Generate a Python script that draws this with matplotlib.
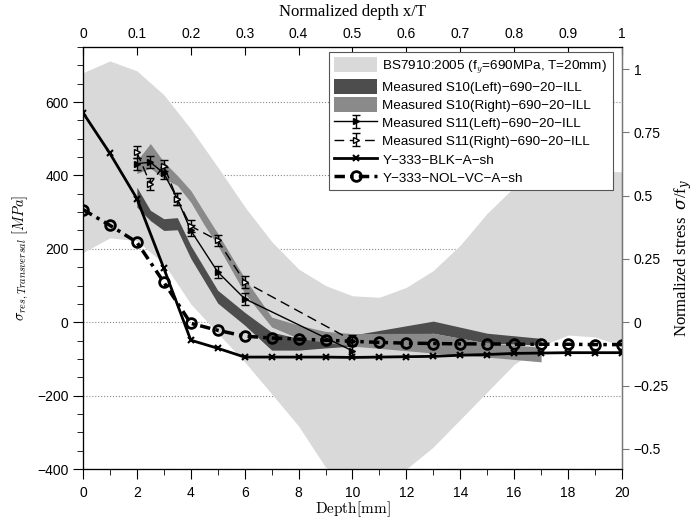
import numpy as np
import matplotlib
matplotlib.use("Agg")
import matplotlib.pyplot as plt
from matplotlib.ticker import MultipleLocator, FuncFormatter

plt.rcParams['font.family'] = ['Liberation Sans', 'DejaVu Sans']
plt.rcParams['mathtext.fontset'] = 'cm'

# BS7910 band (upper / lower bound, MPa) vs depth
bs_x = [0, 1, 2, 3, 4, 5, 6, 7, 8, 9, 10, 11, 12, 13, 14, 15, 16, 17, 18, 19, 20]
bs_upper = [680, 712, 685, 620, 527, 423, 315, 220, 145, 100, 72, 68, 95, 141, 210, 297, 368, 400, 410, 412, 410]
bs_lower = [190, 230, 222, 160, 50, -30, -108, -195, -283, -395, -440, -445, -400, -340, -265, -190, -115, -65, -35, -40, -65]

# measured S10 bands
s10l_x = [2, 2.5, 3, 3.5, 4, 5, 6, 7, 8, 9, 10, 13, 15, 17]
s10l_upper = [368, 305, 282, 285, 209, 87, 27, -27, -44, -40, -35, 3, -30, -44]
s10l_lower = [314, 277, 250, 252, 174, 52, -8, -76, -76, -70, -65, -30, -57, -62]

s10r_x = [2, 2.5, 3, 3.5, 4, 4.5, 5, 6, 7, 8, 9, 10, 13, 15, 17]
s10r_upper = [440, 487, 437, 400, 359, 300, 242, 120, 14, -8, -25, -31, -30, -57, -68]
s10r_lower = [405, 420, 391, 373, 327, 265, 209, 79, -13, -44, -55, -65, -84, -95, -108]

# measured S11 points
s11_x = [2, 2.5, 3, 3.5, 4, 5, 6, 10]
s11l_y = [432, 436, 406, 336, 250, 137, 64, -78]
s11r_y = [463, 377, 427, 335, 262, 223, 110, -50]
s11_err = 16

# simulations
sim_x = [0, 1, 2, 3, 4, 5, 6, 7, 8, 9, 10, 11, 12, 13, 14, 15, 16, 17, 18, 19, 20]
blk_y = [571, 460, 337, 147, -49, -71, -95, -95, -95, -95, -96, -95, -94, -93, -90, -88, -85, -84, -83, -83, -83]
nol_y = [307, 264, 218, 109, -3, -22, -38, -43, -46, -49, -52, -55, -57, -58, -59, -59, -60, -60, -60, -61, -61]

fy = 690.0
top_ticks = [0, 0.1, 0.2, 0.3, 0.4, 0.5, 0.6, 0.7, 0.8, 0.9, 1]
top_labels = ['0', '0.1', '0.2', '0.3', '0.4', '0.5', '0.6', '0.7', '0.8', '0.9', '1']

fig = plt.figure(figsize=(6.99, 5.21), dpi=100)
ax = fig.add_axes([0.1187, 0.0998, 0.7711, 0.81])

ax.set_axisbelow(True)
ax.yaxis.grid(True, linestyle=':', color='#888888', linewidth=0.8)

h_bs = ax.fill_between(bs_x, bs_lower, bs_upper, color='#d9d9d9', lw=0, zorder=1,
                       label='BS7910:2005 (f$_y$=690MPa, T=20mm)')
h_l = ax.fill_between(s10l_x, s10l_lower, s10l_upper, color='#4d4d4d', lw=0, zorder=2,
                      label='Measured S10(Left)\u2212690\u221220\u2212ILL')
h_r = ax.fill_between(s10r_x, s10r_lower, s10r_upper, color='#8a8a8a', lw=0, zorder=2,
                      label='Measured S10(Right)\u2212690\u221220\u2212ILL')

e1 = ax.errorbar(s11_x, s11l_y, yerr=s11_err, color='black', lw=1, marker='>', ms=4,
                 capsize=3, elinewidth=1, zorder=4,
                 label='Measured S11(Left)\u2212690\u221220\u2212ILL')
e2 = ax.errorbar(s11_x, s11r_y, yerr=s11_err, color='black', lw=1, ls=(0, (7, 4)), marker='>',
                 ms=4, mfc='white', capsize=3, elinewidth=1, zorder=4,
                 label='Measured S11(Right)\u2212690\u221220\u2212ILL')
l1, = ax.plot(sim_x, blk_y, color='black', lw=2, marker='x', ms=4, mew=1.5, zorder=5,
              label='Y\u2212333\u2212BLK\u2212A\u2212sh')
l2, = ax.plot(sim_x, nol_y, color='black', lw=2.5, ls=(0, (3, 1.5, 1, 1.5)), marker='o', ms=7,
              mfc='none', mew=2, zorder=5, label='Y\u2212333\u2212NOL\u2212VC\u2212A\u2212sh')

ax.set_xlim(0, 20)
ax.set_ylim(-400, 750)
ax.xaxis.set_major_locator(MultipleLocator(2))
ax.xaxis.set_minor_locator(MultipleLocator(1))
ax.yaxis.set_major_locator(MultipleLocator(200))
ax.yaxis.set_minor_locator(MultipleLocator(50))
ax.tick_params(which='major', direction='out', length=7, labelsize=10)
ax.tick_params(which='minor', direction='out', length=4)
ax.tick_params(axis='x', pad=5)
ax.set_xlabel(r'$\mathrm{Depth[mm]}$', fontsize=11, labelpad=0)
ax.set_ylabel(r'$\sigma_{res,Transversal}\ [MPa]$', fontsize=10.5, labelpad=4)

axt = ax.twiny()
axt.set_xlim(0, 1)
axt.set_xticks(top_ticks)
axt.set_xticklabels(top_labels)
axt.tick_params(direction='in', length=6, labelsize=10, pad=4)
axt.set_xlabel('Normalized depth x/T', family='Liberation Serif', fontsize=12, labelpad=8)

axr = ax.twinx()
axr.set_ylim(-400 / fy, 750 / fy)
axr.yaxis.set_major_locator(MultipleLocator(0.25))
axr.yaxis.set_major_formatter(FuncFormatter(lambda v, p: ('%g' % v).replace('-', '\u2212')))
axr.tick_params(direction='out', length=5, labelsize=10, color='#777777')
axr.spines['right'].set_color('#777777')
axr.set_ylabel(r'Normalized stress  $\sigma$/f$_y$', family='Liberation Serif', fontsize=12,
               labelpad=2, math_fontfamily='dejavuserif')

leg = axr.legend([h_bs, h_l, h_r, e1, e2, l1, l2],
                 [h.get_label() for h in [h_bs, h_l, h_r, e1, e2, l1, l2]],
                 loc='upper right', bbox_to_anchor=(0.983, 0.988), borderaxespad=0,
                 fontsize=9.7, handlelength=3.2, handleheight=1.3, labelspacing=0.25,
                 handletextpad=0.4, borderpad=0.4, fancybox=False, framealpha=1,
                 edgecolor='#555555')
leg.get_frame().set_linewidth(0.8)

fig.savefig('out.png', dpi=100)
